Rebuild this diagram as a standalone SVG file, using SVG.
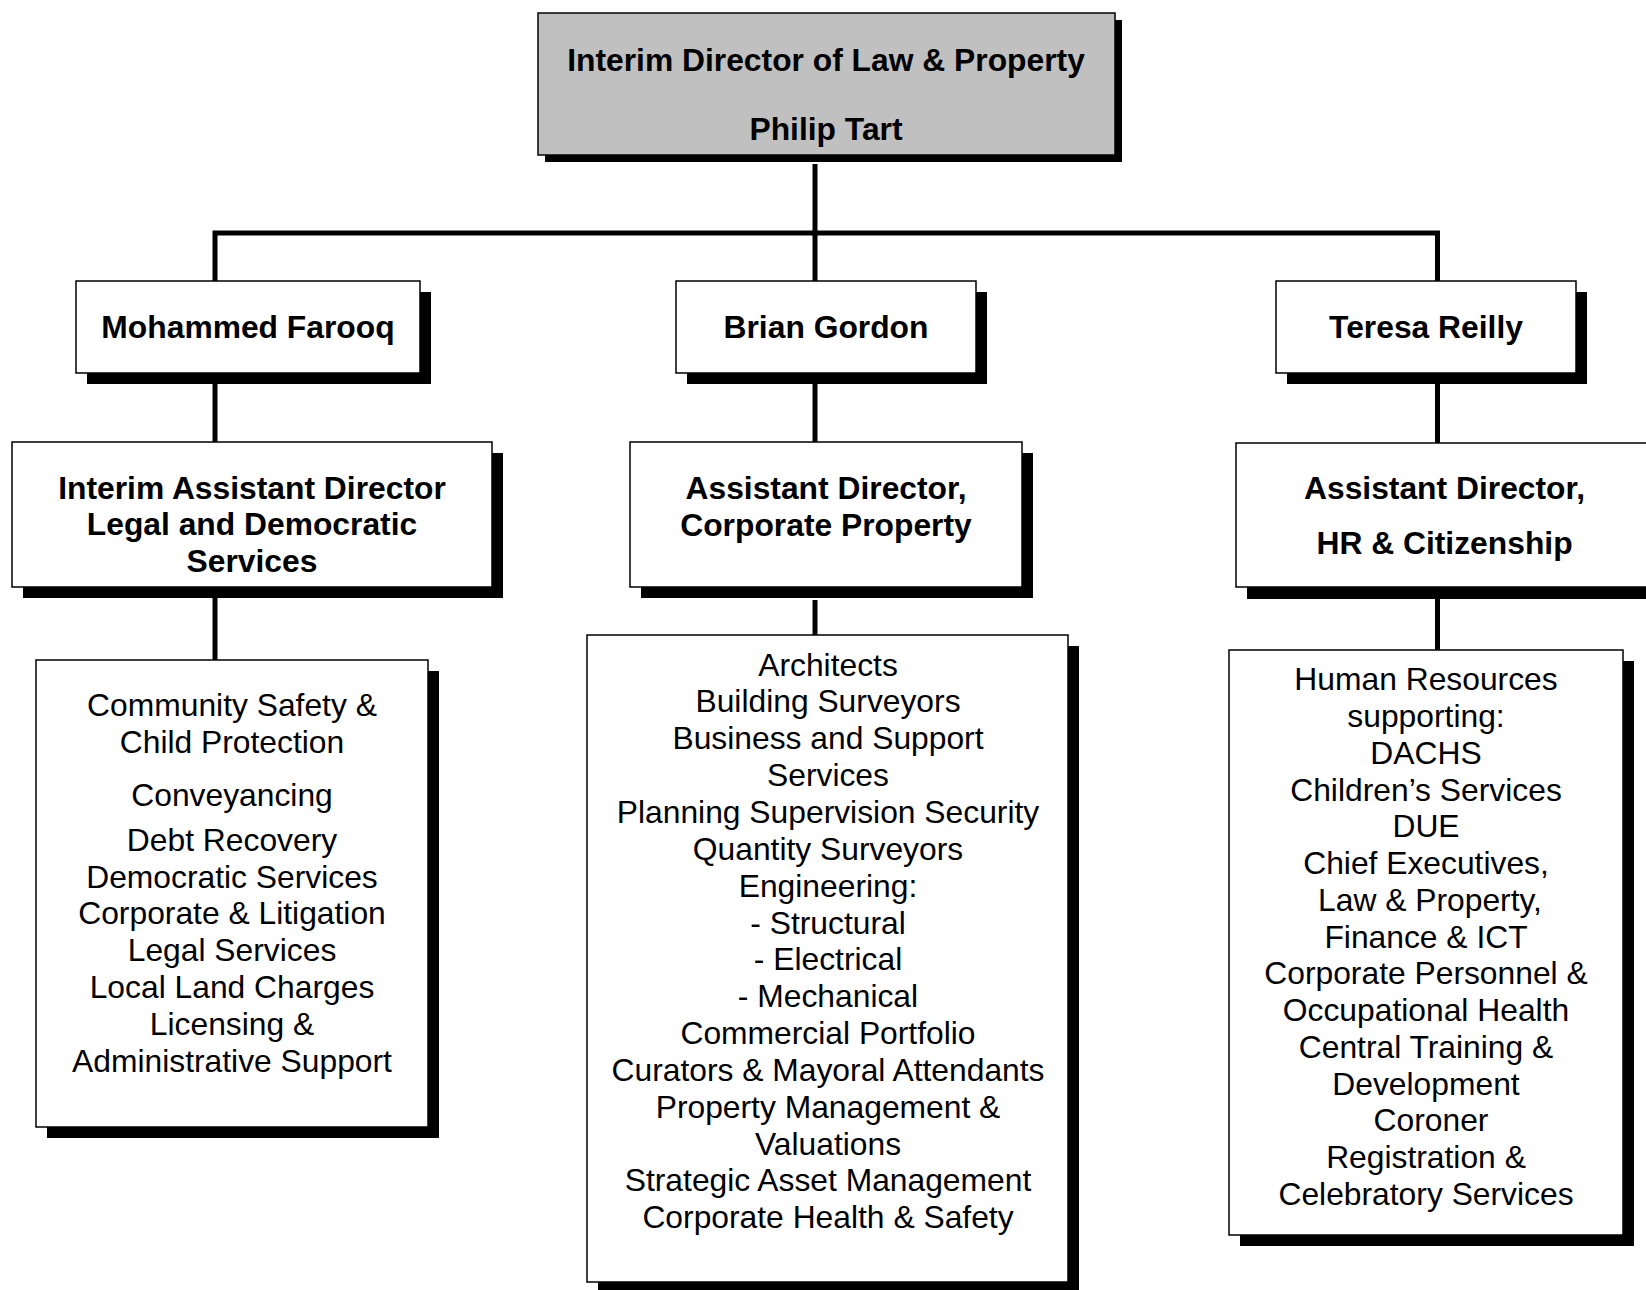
<svg xmlns="http://www.w3.org/2000/svg" width="1646" height="1290" viewBox="0 0 1646 1290">
<style>
.box{fill:#fff;stroke:#000;stroke-width:1.5}
.top{fill:#c0c0c0;stroke:#000;stroke-width:1.5}
.sh{fill:#000}
.b{font-family:"Liberation Sans",Arial,sans-serif;font-weight:bold;font-size:31.8px;text-anchor:middle;fill:#000}
.r{font-family:"Liberation Sans",Arial,sans-serif;font-size:31.8px;text-anchor:middle;fill:#000}
.con{fill:none;stroke:#000;stroke-width:5;stroke-linejoin:miter;stroke-linecap:butt}
</style>
<rect width="1646" height="1290" fill="#fff"/>
<g id="connectors">
<path class="con" d="M815,164 V281"/>
<path class="con" d="M215,281 V233 H1437.5 V281"/>
<path class="con" d="M215,384 V442"/>
<path class="con" d="M815,384 V442"/>
<path class="con" d="M1437.5,384 V443"/>
<path class="con" d="M215,598 V660"/>
<path class="con" d="M815,600 V635"/>
<path class="con" d="M1437.5,598 V650"/>
</g>
<g id="director">
<rect class="sh" x="545" y="20" width="577" height="142"/>
<rect class="top" x="538" y="13" width="577" height="142"/>
<text class="b" x="826" y="70.5">Interim Director of Law &amp; Property</text>
<text class="b" x="826" y="139.5">Philip Tart</text>
</g>
<g id="farooq">
<rect class="sh" x="87" y="292" width="344" height="92"/>
<rect class="box" x="76" y="281" width="344" height="92"/>
<text class="b" x="248" y="337.7">Mohammed Farooq</text>
</g>
<g id="gordon">
<rect class="sh" x="687" y="292" width="300" height="92"/>
<rect class="box" x="676" y="281" width="300" height="92"/>
<text class="b" x="826" y="337.7">Brian Gordon</text>
</g>
<g id="reilly">
<rect class="sh" x="1287" y="292" width="300" height="92"/>
<rect class="box" x="1276" y="281" width="300" height="92"/>
<text class="b" x="1426" y="337.7">Teresa Reilly</text>
</g>
<g id="ad-legal">
<rect class="sh" x="23" y="453" width="480" height="145"/>
<rect class="box" x="12" y="442" width="480" height="145"/>
<text class="b" x="252" y="499.3">Interim Assistant Director</text>
<text class="b" x="252" y="535.3">Legal and Democratic</text>
<text class="b" x="252" y="571.7">Services</text>
</g>
<g id="ad-property">
<rect class="sh" x="641" y="453" width="392" height="145"/>
<rect class="box" x="630" y="442" width="392" height="145"/>
<text class="b" x="826" y="498.8">Assistant Director,</text>
<text class="b" x="826" y="535.5">Corporate Property</text>
</g>
<g id="ad-hr">
<rect class="sh" x="1247" y="454" width="420" height="145"/>
<rect class="box" x="1236" y="443" width="420" height="144"/>
<text class="b" x="1444.5" y="498.8">Assistant Director,</text>
<text class="b" x="1444.5" y="553.5">HR &amp; Citizenship</text>
</g>
<g id="legal-services">
<rect class="sh" x="47" y="671" width="392" height="467"/>
<rect class="box" x="36" y="660" width="392" height="467"/>
<text class="r" x="232" y="716">Community Safety &amp;</text>
<text class="r" x="232" y="752.5">Child Protection</text>
<text class="r" x="232" y="806">Conveyancing</text>
<text class="r" x="232" y="850.5">Debt Recovery</text>
<text class="r" x="232" y="887.5">Democratic Services</text>
<text class="r" x="232" y="924.2">Corporate &amp; Litigation</text>
<text class="r" x="232" y="961">Legal Services</text>
<text class="r" x="232" y="997.7">Local Land Charges</text>
<text class="r" x="232" y="1034.5">Licensing &amp;</text>
<text class="r" x="232" y="1071.5">Administrative Support</text>
</g>
<g id="property-services">
<rect class="sh" x="598" y="646" width="481" height="647"/>
<rect class="box" x="587" y="635" width="481" height="647"/>
<text class="r" x="828" y="675.5">Architects</text>
<text class="r" x="828" y="712.4">Building Surveyors</text>
<text class="r" x="828" y="749.2">Business and Support</text>
<text class="r" x="828" y="786">Services</text>
<text class="r" x="828" y="822.9">Planning Supervision Security</text>
<text class="r" x="828" y="859.8">Quantity Surveyors</text>
<text class="r" x="828" y="896.6">Engineering:</text>
<text class="r" x="828" y="933.5">- Structural</text>
<text class="r" x="828" y="970.3">- Electrical</text>
<text class="r" x="828" y="1007.2">- Mechanical</text>
<text class="r" x="828" y="1044">Commercial Portfolio</text>
<text class="r" x="828" y="1080.9">Curators &amp; Mayoral Attendants</text>
<text class="r" x="828" y="1117.7">Property Management &amp;</text>
<text class="r" x="828" y="1154.6">Valuations</text>
<text class="r" x="828" y="1191.4">Strategic Asset Management</text>
<text class="r" x="828" y="1228.3">Corporate Health &amp; Safety</text>
</g>
<g id="hr-services">
<rect class="sh" x="1240" y="661" width="394" height="585"/>
<rect class="box" x="1229" y="650" width="394" height="585"/>
<text class="r" x="1426" y="690.2">Human Resources</text>
<text class="r" x="1426" y="727">supporting:</text>
<text class="r" x="1426" y="763.7">DACHS</text>
<text class="r" x="1426" y="800.5">Children’s Services</text>
<text class="r" x="1426" y="837.2">DUE</text>
<text class="r" x="1426" y="874">Chief Executives,</text>
<text class="r" x="1430" y="910.7">Law &amp; Property,</text>
<text class="r" x="1426" y="947.5">Finance &amp; ICT</text>
<text class="r" x="1426" y="984.2">Corporate Personnel &amp;</text>
<text class="r" x="1426" y="1021">Occupational Health</text>
<text class="r" x="1426" y="1057.7">Central Training &amp;</text>
<text class="r" x="1426" y="1094.5">Development</text>
<text class="r" x="1431" y="1131.2">Coroner</text>
<text class="r" x="1426" y="1168">Registration &amp;</text>
<text class="r" x="1426" y="1204.7">Celebratory Services</text>
</g>
</svg>
